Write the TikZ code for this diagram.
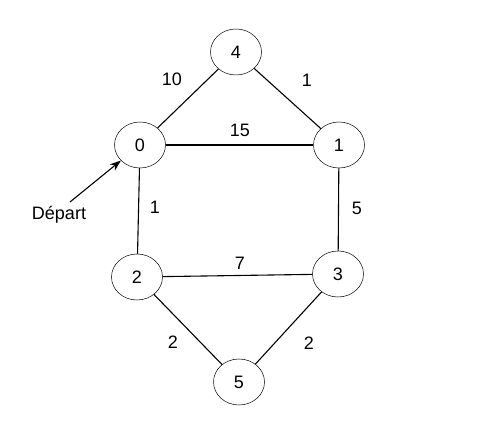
\documentclass[tikz,border=0pt]{standalone}
\usepackage{fontspec}
\setmainfont{Liberation Sans}
\usetikzlibrary{shapes.geometric,arrows.meta}
\tikzset{
  vertex/.style={draw, ellipse, line width=0.5pt, minimum width=51pt, minimum height=46pt, inner sep=0pt, font=\fontsize{18}{21}\selectfont},
  weight/.style={font=\fontsize{18}{21}\selectfont},
  link/.style={line width=1.1pt}
}
\begin{document}
\begin{tikzpicture}[x=1pt, y=-1pt]
        \useasboundingbox (0,0) rectangle (482,446);

        % Vertices
        \node[vertex] (v4) at (236, 52) {4};
        \node[vertex] (v0) at (140, 145) {0};
        \node[vertex] (v1) at (339, 145) {1};
        \node[vertex] (v2) at (137, 277) {2};
        \node[vertex] (v3) at (338, 274) {3};
        \node[vertex] (v5) at (239, 382) {5};

        % Edges
        \draw[link] (v0) -- (v4);
        \draw[link] (v4) -- (v1);
        \draw[link] (v0) -- (v1);
        \draw[link] (v0) -- (v2);
        \draw[link] (v1) -- (v3);
        \draw[link] (v2) -- (v3);
        \draw[link] (v2) -- (v5);
        \draw[link] (v3) -- (v5);

        % Weights
        \node[weight] (w04) at (172, 79) {10};
        \node[weight] (w41) at (307, 80) {1};
        \node[weight] (w01) at (240, 130) {15};
        \node[weight] (w02) at (155, 207) {1};
        \node[weight] (w13) at (357, 208) {5};
        \node[weight] (w23) at (240, 263) {7};
        \node[weight] (w25) at (173, 342) {2};
        \node[weight] (w35) at (309, 343) {2};

        % Start
        \node[weight] (start) at (59, 215) {Départ};
        \coordinate (tail) at (70, 202);
        \draw[line width=1.1pt, -{Stealth[length=11pt, width=8pt]}] (tail) -- (v0);
    \end{tikzpicture}
\end{document}
